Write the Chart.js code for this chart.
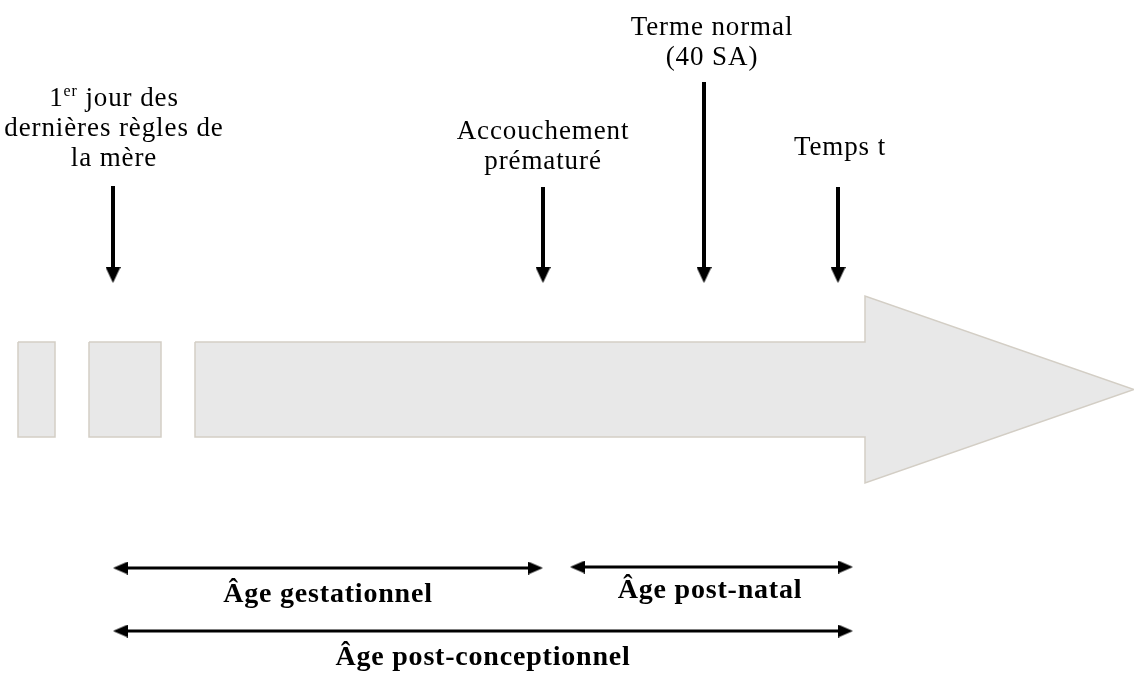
<!DOCTYPE html>
<html>
<head>
<meta charset="utf-8">
<script src="https://cdn.jsdelivr.net/npm/chart.js@4.4.1/dist/chart.umd.min.js"></script>
<style>
  html, body { margin: 0; padding: 0; background: #fff; }
  #wrap { width: 1134px; height: 673px; }
</style>
</head>
<body>
<div id="wrap"><canvas id="frise"></canvas></div>
<script>
// frise grise : deux blocs puis la grande flèche
const blockLeft   = [18, 89];
const blockRight  = [55, 161];
const bandTop     = 342;
const bandBottom  = 437;
const arrowStart  = 195;
const arrowNeck   = 865;
const arrowTip    = 1134;
const headTop     = 296;
const headBottom  = 483;

// repères (flèches verticales)
const eventLines  = [['1^er jour des', 'dernières règles de', 'la mère'], ['Accouchement', 'prématuré'], ['Terme normal', '(40 SA)'], ['Temps t']];
const eventX      = [113, 543, 704, 838];
const eventFrom   = [186, 187, 82, 187];
const eventTo     = 283;
const eventTextX  = [114, 543, 712, 840];
const eventTextY  = [106, 139, 35, 155];

// durées (flèches doubles)
const spanNames   = ['Âge gestationnel', 'Âge post-natal', 'Âge post-conceptionnel'];
const spanFrom    = [113, 570, 113];
const spanTo      = [543, 853, 853];
const spanY       = [568, 567, 631];
const spanTextX   = [328, 710, 483];
const spanTextY   = [602, 598, 665];

const GREY = '#e8e8e8';
const EDGE = '#d3cec5';
const FONT = '"Liberation Serif", "Times New Roman", serif';

function headImage(len, half) {
    const c = document.createElement('canvas');
    c.width = len * 2;
    c.height = half * 2;
    const g = c.getContext('2d');
    g.fillStyle = '#000';
    g.beginPath();
    g.moveTo(0, 0);
    g.lineTo(len, half);
    g.lineTo(0, half * 2);
    g.closePath();
    g.fill();
    return c;
}
const bigHead   = headImage(16, 7.5);
const smallHead = headImage(15, 6.5);

const shape = (pts) => ({
    data: pts.map(p => ({x: p[0], y: p[1]})),
    fill: 'shape',
    backgroundColor: GREY,
    borderColor: EDGE,
    borderWidth: 1.5,
    pointRadius: 0,
    tension: 0
});

const datasets = [];
blockLeft.forEach((l, i) => {
    const r = blockRight[i];
    datasets.push(shape([[l, bandTop], [r, bandTop], [r, bandBottom], [l, bandBottom], [l, bandTop]]));
});
datasets.push(shape([
    [arrowStart, bandTop], [arrowNeck, bandTop], [arrowNeck, headTop], [arrowTip, (headTop + headBottom) / 2],
    [arrowNeck, headBottom], [arrowNeck, bandBottom], [arrowStart, bandBottom], [arrowStart, bandTop]
]));

eventX.forEach((x, i) => {
    datasets.push({
        data: [{x: x, y: eventFrom[i]}, {x: x, y: eventTo - 8}],
        borderColor: '#000', borderWidth: 4, borderCapStyle: 'butt',
        pointRadius: 0, fill: false
    });
});
datasets.push({
    data: eventX.map(x => ({x: x, y: eventTo})),
    showLine: false,
    pointStyle: bigHead, pointRotation: 90, pointRadius: 8
});

spanFrom.forEach((a, i) => {
    datasets.push({
        data: [{x: a + 8, y: spanY[i]}, {x: spanTo[i] - 8, y: spanY[i]}],
        borderColor: '#000', borderWidth: 3,
        pointRadius: 0, fill: false
    });
    datasets.push({
        data: [{x: a, y: spanY[i]}, {x: spanTo[i], y: spanY[i]}],
        showLine: false,
        pointStyle: smallHead, pointRotation: [180, 0], pointRadius: 8
    });
});

function drawRich(ctx, text, cx, by, size, weight, spacing) {
    const parts = [];
    text.split(/\^(\S+)/).forEach((t, k) => { if (t) parts.push({t: t, sup: k % 2 === 1}); });
    const fontOf = p => (p.sup ? weight + ' ' + Math.round(size * 0.6) + 'px ' : weight + ' ' + size + 'px ') + FONT;
    ctx.letterSpacing = spacing + 'px';
    let w = 0;
    parts.forEach(p => { ctx.font = fontOf(p); p.w = ctx.measureText(p.t).width; w += p.w; });
    let x = cx - w / 2;
    parts.forEach(p => {
        ctx.font = fontOf(p);
        ctx.fillText(p.t, x, p.sup ? by - size * 0.36 : by);
        x += p.w;
    });
}

const textPlugin = {
    id: 'textes',
    afterDatasetsDraw(chart) {
        const {ctx, scales: {x, y}} = chart;
        ctx.save();
        ctx.fillStyle = '#000';
        ctx.textAlign = 'left';
        ctx.textBaseline = 'alphabetic';
        eventLines.forEach((lines, i) => {
            lines.forEach((line, j) => {
                drawRich(ctx, line, x.getPixelForValue(eventTextX[i]), y.getPixelForValue(eventTextY[i] + j * 30), 27, 'normal', 0.9);
            });
        });
        spanNames.forEach((name, i) => {
            drawRich(ctx, name, x.getPixelForValue(spanTextX[i]), y.getPixelForValue(spanTextY[i]), 28, 'bold', 0.8);
        });
        ctx.restore();
    }
};

new Chart(document.getElementById('frise'), {
    type: 'line',
    data: { datasets: datasets },
    options: {
        responsive: true,
        maintainAspectRatio: false,
        animation: false,
        events: [],
        layout: { padding: 0, autoPadding: false },
        plugins: {
            legend: { display: false },
            tooltip: { enabled: false },
            title: { display: false }
        },
        scales: {
            x: { type: 'linear', min: 0, max: 1134, display: false },
            y: { type: 'linear', min: 0, max: 673, reverse: true, display: false }
        }
    },
    plugins: [textPlugin]
});
</script>
</body>
</html>
